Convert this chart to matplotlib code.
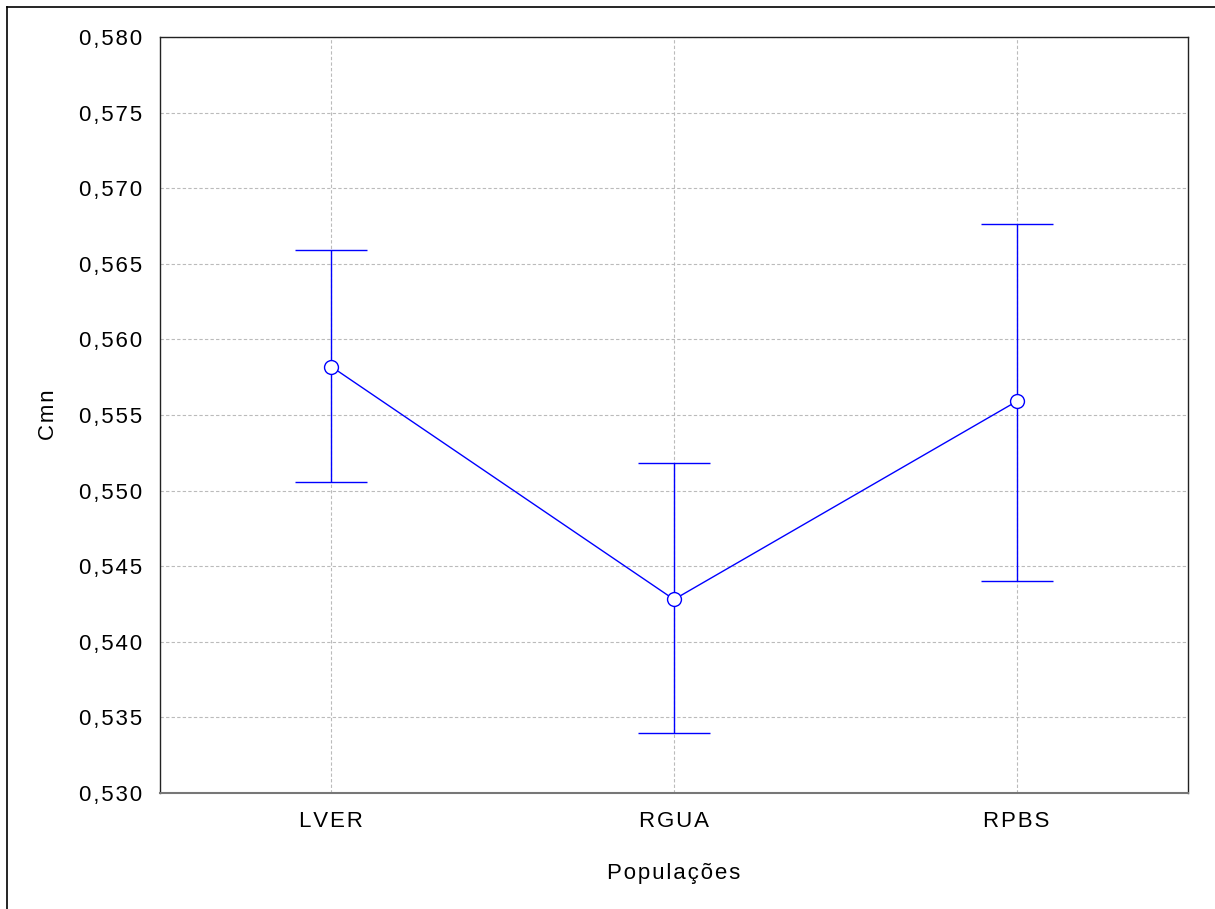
import matplotlib
matplotlib.use("Agg")
import matplotlib.pyplot as plt
from matplotlib.lines import Line2D
from matplotlib.ticker import FuncFormatter

categories = ["LVER", "RGUA", "RPBS"]
means = [0.5582, 0.5428, 0.5559]
upper = [0.5659, 0.5518, 0.5676]
lower = [0.5506, 0.5340, 0.5440]

plt.rcParams['font.family'] = ['Liberation Sans', 'DejaVu Sans']

HS = '\u200a'


def spaced(s):
    return HS.join(s)


fig = plt.figure(figsize=(12.15, 9.09), dpi=100)
W, H = 1215, 909
ax = fig.add_axes([160 / W, 1 - 793 / H, (1188 - 160) / W, (793 - 37) / H])

x = list(range(len(categories)))
yerr_low = [m - l for m, l in zip(means, lower)]
yerr_up = [u - m for m, u in zip(means, upper)]
ax.errorbar(x, means, yerr=[yerr_low, yerr_up], fmt='none', ecolor='#0000ff',
            elinewidth=1.0, capsize=26, capthick=1.0, zorder=3)
ax.plot(x, means, color='#0000ff', lw=1.0, marker='o', markersize=10,
        markerfacecolor='white', markeredgecolor='#0000ff', markeredgewidth=1.0, zorder=4)

ax.set_xlim(-0.5, 2.5)
ax.set_ylim(0.530, 0.580)
ax.set_xticks(x)
ax.set_xticklabels([spaced(c) for c in categories])
ax.set_yticks([0.530 + 0.005 * i for i in range(11)])
ax.yaxis.set_major_formatter(FuncFormatter(lambda v, p: spaced(f"{v:.3f}".replace('.', ','))))
ax.tick_params(axis='both', labelsize=16, length=0)
ax.tick_params(axis='x', pad=13)
ax.tick_params(axis='y', pad=13)
ax.grid(True, color='#bbbbbb', linestyle=(0, (3, 2)), linewidth=0.8)
ax.set_axisbelow(True)
for s in ax.spines.values():
    s.set_linewidth(1.0)
    s.set_color('#222222')
ax.spines['bottom'].set_color('#777777')
ax.spines['bottom'].set_linewidth(1.5)

ax.set_xlabel(spaced("Populações"), fontsize=16, labelpad=22)
ax.set_ylabel(spaced("Cmn"), fontsize=16, labelpad=14)

# outer frame
fig.add_artist(Line2D([7 / W, 7 / W], [0, 1 - 7 / H], transform=fig.transFigure, color='black', lw=1.2))
fig.add_artist(Line2D([7 / W, 1], [1 - 7 / H, 1 - 7 / H], transform=fig.transFigure, color='black', lw=1.2))

fig.savefig("out.png", dpi=100)
